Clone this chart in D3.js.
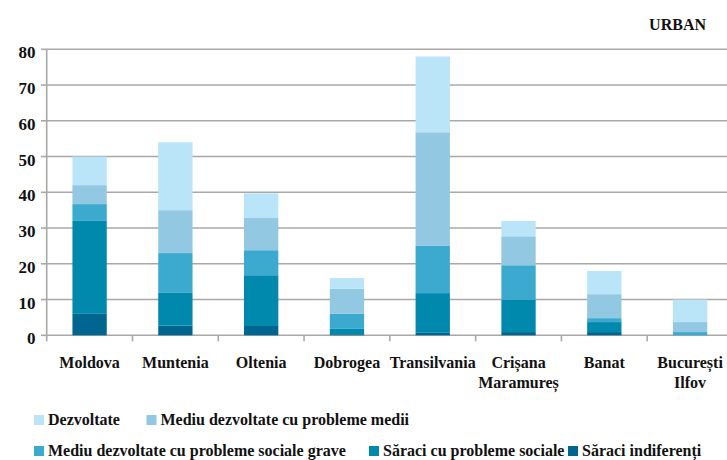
<!DOCTYPE html>
<html>
<head>
<meta charset="utf-8">
<script src="https://cdn.jsdelivr.net/npm/d3@7"></script>
<style>
  html, body { margin: 0; padding: 0; background: #fff; }
  svg { display: block; }
</style>
</head>
<body>
<svg id="chart" width="727" height="460" font-family="'Liberation Serif', 'DejaVu Serif', 'Times New Roman', Times, serif" font-weight="bold"></svg>
<script>
// ---- data ----
const categories = ["Moldova", "Muntenia", "Oltenia", "Dobrogea", "Transilvania", "Crișana Maramureș", "Banat", "București Ilfov"];
const categoryLines = [["Moldova"], ["Muntenia"], ["Oltenia"], ["Dobrogea"], ["Transilvania"], ["Crișana", "Maramureș"], ["Banat"], ["București", "Ilfov"]];
const seriesNames = ["Săraci indiferenți", "Săraci cu probleme sociale", "Mediu dezvoltate cu probleme sociale grave", "Mediu dezvoltate cu probleme medii", "Dezvoltate"];
const saraciIndiferenti = [6, 2.7, 2.6, 0.3, 0.7, 0.9, 0.9, 0];
const saraciProbleme    = [26, 9.3, 14.2, 1.5, 11.1, 9, 2.8, 0];
const mediuGrave        = [4.7, 11, 7, 4.2, 13.2, 9.7, 1.1, 0.9];
const mediuMedii        = [5.3, 12, 9, 7, 31.8, 8.1, 6.7, 2.8];
const dezvoltate        = [8, 19, 6.9, 3, 21.2, 4.3, 6.5, 6.3];
const yTicks = [0, 10, 20, 30, 40, 50, 60, 70, 80];
const title = "URBAN";

// ---- styles ----
const colors = ["#00668f", "#0088ad", "#3ca9cf", "#92c8e2", "#bae5f9"];
const seriesValues = [saraciIndiferenti, saraciProbleme, mediuGrave, mediuMedii, dezvoltate];
const FONT = "'Liberation Serif', 'DejaVu Serif', 'Times New Roman', Times, serif";

const rows = categories.map((c, i) => {
  const r = { cat: c };
  seriesNames.forEach((s, k) => r[s] = seriesValues[k][i]);
  return r;
});
const stacked = d3.stack().keys(seriesNames)(rows);

const svg = d3.select("#chart");
const x = d3.scaleBand().domain(categories).range([46.7, 733]).paddingInner(0.6).paddingOuter(0.3);
const y = d3.scaleLinear().domain([0, 80]).range([335.3, 49.3]);
const step = x.step();

function styleText(sel, size) {
  return sel.style("font-family", FONT).style("font-weight", "bold")
    .style("font-size", size + "px").style("fill", "#111");
}

// gridlines
svg.append("g").selectAll("line").data(yTicks).join("line")
  .attr("x1", 46.7).attr("x2", 727)
  .attr("y1", d => y(d)).attr("y2", d => y(d))
  .attr("stroke", "#a8a8a8").attr("stroke-width", 1.6);

// y axis line + ticks
svg.append("line").attr("x1", 46.7).attr("x2", 46.7).attr("y1", y(80)).attr("y2", y(0))
  .attr("stroke", "#a8a8a8").attr("stroke-width", 1.6);
svg.append("g").selectAll("line").data(yTicks).join("line")
  .attr("x1", 41).attr("x2", 46.7)
  .attr("y1", d => y(d)).attr("y2", d => y(d))
  .attr("stroke", "#a8a8a8").attr("stroke-width", 1.6);
styleText(svg.append("g").selectAll("text").data(yTicks).join("text")
  .attr("x", 35.5).attr("y", d => y(d) + 9)
  .attr("text-anchor", "end"), 17)
  .text(d => d);

// bars
svg.append("g").selectAll("g").data(stacked).join("g")
  .attr("fill", (d, i) => colors[i])
  .selectAll("rect").data(d => d).join("rect")
  .attr("x", d => x(d.data.cat))
  .attr("width", x.bandwidth())
  .attr("y", d => y(d[1]))
  .attr("height", d => Math.max(0, y(d[0]) - y(d[1])));

// x axis ticks at band boundaries
const bounds = d3.range(categories.length + 1).map(i => 46.7 + i * step);
svg.append("g").selectAll("line").data(bounds).join("line")
  .attr("x1", d => d).attr("x2", d => d)
  .attr("y1", y(0)).attr("y2", y(0) + 6)
  .attr("stroke", "#a8a8a8").attr("stroke-width", 1.6);

// category labels
const cl = styleText(svg.append("g").selectAll("text").data(categories).join("text")
  .attr("text-anchor", "middle")
  .attr("x", d => x(d) + x.bandwidth() / 2)
  .attr("y", 368), 16);
cl.selectAll("tspan").data((d, i) => categoryLines[i]).join("tspan")
  .attr("x", function() { return d3.select(this.parentNode).attr("x"); })
  .attr("dy", (d, i) => i === 0 ? 0 : 19.5)
  .text(d => d);

// title
styleText(svg.append("text").attr("x", 706).attr("y", 30).attr("text-anchor", "end"), 16)
  .text(title);

// legend
const legendItems = [
  { name: "Dezvoltate", color: colors[4], x: 34, y: 415 },
  { name: "Mediu dezvoltate cu probleme medii", color: colors[3], x: 146.5, y: 415 },
  { name: "Mediu dezvoltate cu probleme sociale grave", color: colors[2], x: 34, y: 446 },
  { name: "Săraci cu probleme sociale", color: colors[1], x: 369, y: 446 },
  { name: "Săraci indiferenți", color: colors[0], x: 568, y: 446 }
];
const lg = svg.append("g").selectAll("g").data(legendItems).join("g");
lg.append("rect").attr("x", d => d.x).attr("y", d => d.y).attr("width", 10).attr("height", 10)
  .attr("fill", d => d.color);
styleText(lg.append("text").attr("x", d => d.x + 14).attr("y", d => d.y + 10), 16)
  .text(d => d.name);
</script>
</body>
</html>
